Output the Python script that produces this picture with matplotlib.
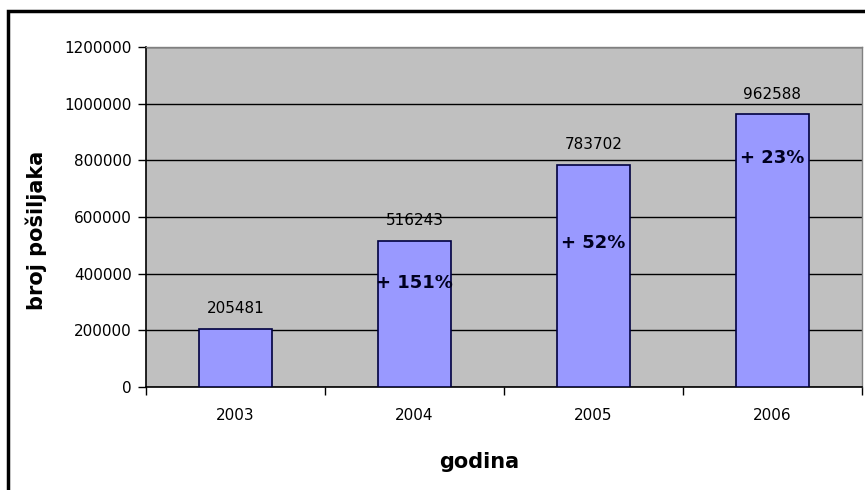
import matplotlib
matplotlib.use("Agg")
import matplotlib.pyplot as plt
import matplotlib.patches as patches
import numpy as np

plt.rcParams['font.family'] = ['DejaVu Sans']

# data
godine = ['2003', '2004', '2005', '2006']
posiljke = [205481, 516243, 783702, 962588]
rast = ['', '+ 151%', '+ 52%', '+ 23%']

# where the growth labels sit inside the bars (y in data units)
rast_y = [0, 367000, 508000, 808000]

fig = plt.figure(figsize=(8.65, 4.9), dpi=100)
ax = fig.add_axes([146/865, 1-387/490, 716/865, 340/490])
ax.set_facecolor('#c0c0c0')

x = np.arange(len(godine))
ax.bar(x, posiljke, width=0.41, color='#9999ff', edgecolor='#000040', linewidth=1.2, zorder=3)

for i, v in enumerate(posiljke):
    ax.annotate(str(v), (x[i], v), xytext=(0, 9), textcoords='offset points',
                ha='center', va='bottom', fontsize=11, zorder=4)
    if rast[i]:
        ax.text(x[i], rast_y[i], rast[i], ha='center', va='center',
                fontsize=13, fontweight='bold', color='#000020', zorder=4)

ax.set_ylim(0, 1200000)
ax.set_xlim(-0.5, 3.5)
ax.set_yticks(np.arange(0, 1200001, 200000))
ax.set_yticklabels([str(t) for t in range(0, 1200001, 200000)], fontsize=11)
ax.yaxis.grid(True, color='black', linewidth=1)
ax.set_axisbelow(True)

ax.set_xticks(np.arange(-0.5, 3.6, 1))
ax.set_xticklabels([])
ax.set_xticks(x, minor=True)
ax.set_xticklabels(godine, minor=True, fontsize=11)
ax.tick_params(axis='x', which='minor', length=0, pad=15)
ax.tick_params(axis='x', which='major', direction='out', length=6, width=1)
ax.tick_params(axis='y', direction='out', length=6, width=1, pad=4)

for s in ['top', 'right']:
    ax.spines[s].set_color('#808080')
    ax.spines[s].set_linewidth(1)
for s in ['left', 'bottom']:
    ax.spines[s].set_color('black')
    ax.spines[s].set_linewidth(1.2)

fig.text(36/865, 1-230/490, 'broj pošiljaka', rotation=90, ha='center', va='center',
         fontsize=15, fontweight='bold')
fig.text(479/865, 1-462/490, 'godina', ha='center', va='center',
         fontsize=15, fontweight='bold')

# outer frame of the chart object
fig.patches.append(patches.Rectangle((8/865, -0.1), 1.2, 1.1 - 11/490,
                                     transform=fig.transFigure, fill=False,
                                     edgecolor='black', linewidth=2.5))

plt.savefig('out.png', dpi=100)
